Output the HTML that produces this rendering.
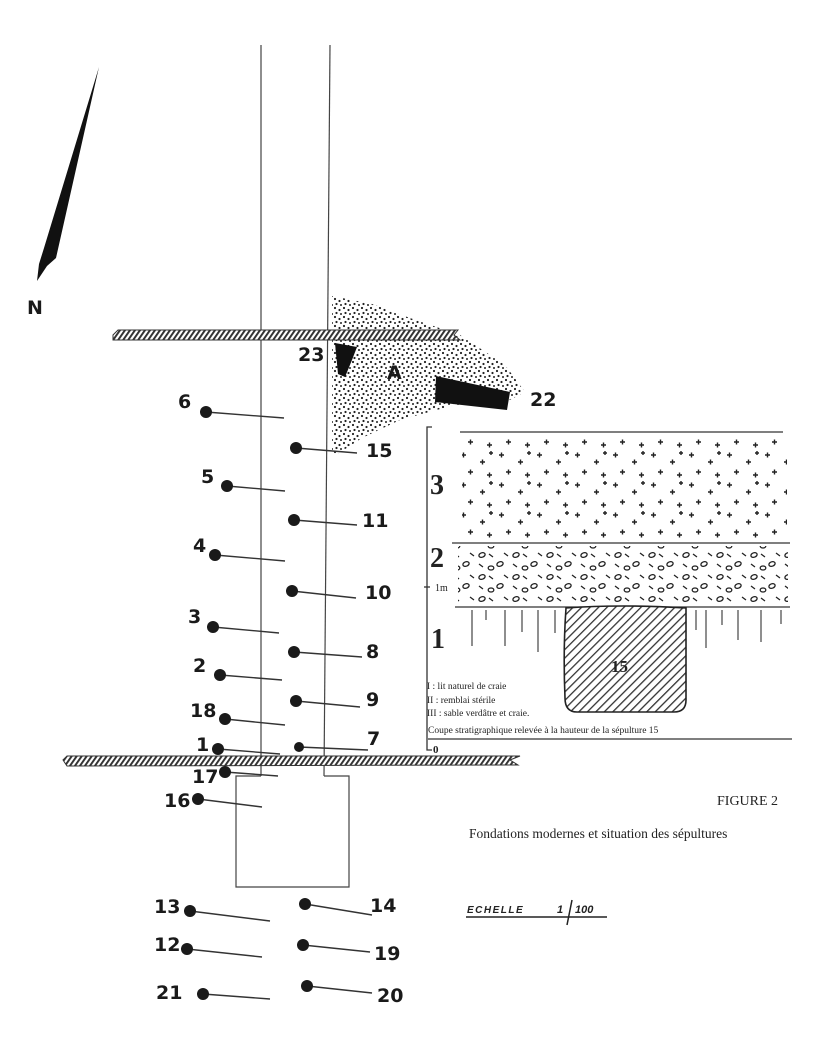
<!DOCTYPE html>
<html><head><meta charset="utf-8"><style>
html,body{margin:0;padding:0;background:#fff}
svg{display:block}
.b{font-family:"DejaVu Sans","Liberation Sans",sans-serif;font-weight:bold;font-size:19px;fill:#1a1a1a}
.s{font-family:"Liberation Serif",serif;fill:#222}
</style></head><body>
<svg width="818" height="1058" viewBox="0 0 818 1058" xmlns="http://www.w3.org/2000/svg">
<defs>
<pattern id="hatch" width="5" height="8" patternUnits="userSpaceOnUse" patternTransform="skewX(-35)">
<rect width="5" height="8" fill="#fff"/><rect width="2.4" height="8" fill="#333"/></pattern>
<pattern id="gh" width="6" height="6" patternUnits="userSpaceOnUse" patternTransform="rotate(45)">
<rect width="6" height="6" fill="#fff"/><rect width="1.3" height="6" fill="#333"/></pattern>
<pattern id="dots" width="9" height="9" patternUnits="userSpaceOnUse">
<circle cx="2" cy="2" r="1.1" fill="#222"/><circle cx="6.5" cy="4" r="1.1" fill="#222"/><circle cx="3.5" cy="7" r="1.1" fill="#222"/><circle cx="8" cy="8" r="1" fill="#222"/></pattern>
<pattern id="plus" width="38" height="30" patternUnits="userSpaceOnUse">
<g stroke="#222" stroke-width="1.4"><path d="M5 5h5M7.5 2.5v5M24 12h5M26.5 9.5v5M12 22h5M14.5 19.5v5M31 25h5M33.5 22.5v5M33 3h4M35 1v4"/></g></pattern>
<pattern id="gravel" width="34" height="22" patternUnits="userSpaceOnUse">
<g fill="none" stroke="#222" stroke-width="1.3"><ellipse cx="6" cy="5" rx="3.2" ry="2.2" transform="rotate(-20 6 5)"/><ellipse cx="24" cy="14" rx="3.2" ry="2.2" transform="rotate(-20 24 14)"/><ellipse cx="15" cy="18" rx="2.8" ry="2"/><path d="M13 4l4 3M28 3l4 3M3 14l4 3"/></g></pattern>
</defs>

<!-- north arrow -->
<polygon points="99,67 56,258 47,266 37,281 39,264 44,248" fill="#111"/>
<text x="27" y="314" class="b" font-size="23">N</text>

<!-- stipple zone A -->
<polygon points="332,296 372,304 410,318 460,335 505,365 525,392 500,405 455,405 400,420 362,438 336,455 332,455" fill="url(#dots)"/>

<!-- foundation lines -->
<g stroke="#444" stroke-width="1.2" fill="none">
<line x1="261" y1="45" x2="261" y2="776"/>
<line x1="330" y1="45" x2="324" y2="776"/>
<polyline points="261,776 236,776 236,887 349,887 349,776 324,776"/>
</g>

<!-- hatched bars -->
<polygon points="118,330 458,330 454,335 460,340 113,340 113,335" fill="url(#hatch)" stroke="#333"/>
<polygon points="67,756 520,756 510,760 518,765 67,766 63,760" fill="url(#hatch)" stroke="#333"/>

<!-- black features -->
<polygon points="335,343 357,347 352,360 345,377 338,374" fill="#111"/>
<polygon points="436,376 510,392 507,410 435,402" fill="#111"/>
<text x="298" y="361" class="b">23</text>
<text x="387" y="379" class="b" font-size="16">A</text>
<text x="530" y="406" class="b">22</text>

<!-- leader lines -->
<g stroke="#333" stroke-width="1.4">
<line x1="206" y1="412" x2="284" y2="418"/>
<line x1="227" y1="486" x2="285" y2="491"/>
<line x1="215" y1="555" x2="285" y2="561"/>
<line x1="213" y1="627" x2="279" y2="633"/>
<line x1="220" y1="675" x2="282" y2="680"/>
<line x1="225" y1="719" x2="285" y2="725"/>
<line x1="218" y1="749" x2="280" y2="754"/>
<line x1="225" y1="772" x2="278" y2="776"/>
<line x1="198" y1="799" x2="262" y2="807"/>
<line x1="296" y1="448" x2="357" y2="453"/>
<line x1="294" y1="520" x2="357" y2="525"/>
<line x1="292" y1="591" x2="356" y2="598"/>
<line x1="294" y1="652" x2="362" y2="657"/>
<line x1="296" y1="701" x2="360" y2="707"/>
<line x1="299" y1="747" x2="368" y2="750"/>
<line x1="190" y1="911" x2="270" y2="921"/>
<line x1="305" y1="904" x2="372" y2="915"/>
<line x1="187" y1="949" x2="262" y2="957"/>
<line x1="303" y1="945" x2="370" y2="952"/>
<line x1="203" y1="994" x2="270" y2="999"/>
<line x1="307" y1="986" x2="372" y2="993"/>
</g>
<g fill="#1a1a1a">
<circle cx="206" cy="412" r="6"/><circle cx="227" cy="486" r="6"/><circle cx="215" cy="555" r="6"/>
<circle cx="213" cy="627" r="6"/><circle cx="220" cy="675" r="6"/><circle cx="225" cy="719" r="6"/>
<circle cx="218" cy="749" r="6"/><circle cx="225" cy="772" r="6"/><circle cx="198" cy="799" r="6"/>
<circle cx="296" cy="448" r="6"/><circle cx="294" cy="520" r="6"/><circle cx="292" cy="591" r="6"/>
<circle cx="294" cy="652" r="6"/><circle cx="296" cy="701" r="6"/><circle cx="299" cy="747" r="5"/>
<circle cx="190" cy="911" r="6"/><circle cx="305" cy="904" r="6"/><circle cx="187" cy="949" r="6"/>
<circle cx="303" cy="945" r="6"/><circle cx="203" cy="994" r="6"/><circle cx="307" cy="986" r="6"/>
</g>
<g class="b">
<text x="178" y="408">6</text><text x="201" y="483">5</text><text x="193" y="552">4</text>
<text x="188" y="623">3</text><text x="193" y="672">2</text><text x="190" y="717">18</text>
<text x="196" y="751">1</text><text x="192" y="783">17</text><text x="164" y="807">16</text>
<text x="366" y="457">15</text><text x="362" y="527">11</text><text x="365" y="599">10</text>
<text x="366" y="658">8</text><text x="366" y="706">9</text><text x="367" y="745">7</text>
<text x="154" y="913">13</text><text x="370" y="912">14</text><text x="154" y="951">12</text>
<text x="374" y="960">19</text><text x="156" y="999">21</text><text x="377" y="1002">20</text>
</g>

<!-- inset section -->
<g stroke="#333" stroke-width="1.3" fill="none">
<polyline points="432,427 427,427 427,750 432,750"/>
<line x1="424" y1="587" x2="430" y2="587"/>
<line x1="460" y1="432" x2="783" y2="432"/>
<line x1="452" y1="543" x2="790" y2="543"/>
<line x1="455" y1="607" x2="790" y2="607"/>
<line x1="428" y1="739" x2="792" y2="739"/>
</g>
<rect x="462" y="437" width="325" height="102" fill="url(#plus)"/>
<rect x="458" y="546" width="330" height="58" fill="url(#gravel)"/>
<g stroke="#444" stroke-width="1.2">
<line x1="472" y1="610" x2="472" y2="646"/><line x1="486" y1="610" x2="486" y2="620"/>
<line x1="505" y1="610" x2="505" y2="646"/><line x1="522" y1="610" x2="522" y2="632"/>
<line x1="538" y1="610" x2="538" y2="652"/><line x1="555" y1="610" x2="555" y2="633"/>
<line x1="696" y1="610" x2="696" y2="630"/><line x1="706" y1="610" x2="706" y2="648"/>
<line x1="722" y1="610" x2="722" y2="625"/><line x1="738" y1="610" x2="738" y2="640"/>
<line x1="761" y1="610" x2="761" y2="642"/><line x1="781" y1="610" x2="781" y2="624"/>
</g>
<path d="M566,608 Q620,604 686,608 L686,700 Q686,712 674,712 L577,712 Q565,712 565,698 Q563,650 566,608 Z" fill="url(#gh)" stroke="#222" stroke-width="1.6"/>
<text x="611" y="672" class="s" font-weight="bold" font-size="17">15</text>
<g class="s" font-weight="bold" font-size="28">
<text x="430" y="494">3</text><text x="430" y="567">2</text><text x="431" y="648">1</text>
</g>
<text x="435" y="591" class="s" font-size="10">1m</text>
<text x="433" y="753" class="s" font-size="11" font-weight="bold">0</text>
<g class="s" font-size="9.5">
<text x="427" y="689">I : lit naturel de craie</text>
<text x="427" y="703">II : remblai stérile</text>
<text x="427" y="716">III : sable verdâtre et craie.</text>
<text x="428" y="733">Coupe stratigraphique relevée à la hauteur de la sépulture 15</text>
</g>

<!-- captions -->
<text x="717" y="805" class="s" font-size="14">FIGURE 2</text>
<text x="469" y="838" class="s" font-size="13.5">Fondations modernes et situation des sépultures</text>
<text x="467" y="913" font-family="Liberation Sans,sans-serif" font-style="italic" font-weight="bold" font-size="10" letter-spacing="1.5" fill="#222">ECHELLE</text>
<text x="557" y="913" font-family="Liberation Sans,sans-serif" font-style="italic" font-weight="bold" font-size="11" fill="#222">1</text>
<text x="575" y="913" font-family="Liberation Sans,sans-serif" font-style="italic" font-weight="bold" font-size="11" fill="#222">100</text>
<line x1="466" y1="917" x2="607" y2="917" stroke="#222" stroke-width="1.5"/>
<line x1="572" y1="900" x2="567" y2="925" stroke="#222" stroke-width="1.5"/>
</svg>
</body></html>
